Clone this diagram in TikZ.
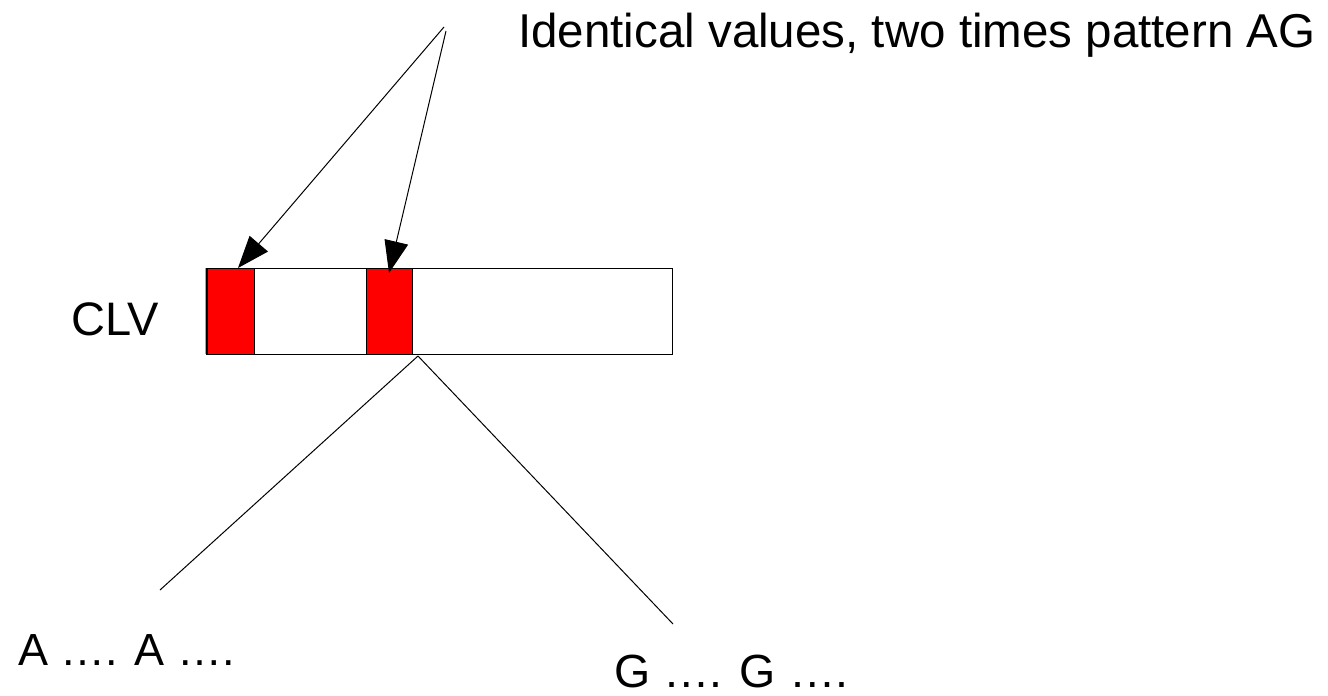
\documentclass[tikz,border=0pt]{standalone}
\usepackage{fontspec}
\setmainfont{Liberation Sans}
\usetikzlibrary{arrows.meta}
\begin{document}
\begin{tikzpicture}[x=1pt,y=-1pt,
  lbl/.style={anchor=base west,inner sep=0pt,font=\fontsize{45}{54}\selectfont},
  thin line/.style={line width=1pt,black},
  pointer/.style={thin line,-{Triangle[length=32pt,width=24pt]}},
  redbox/.style={fill=red,draw=black,line width=0.8pt}]
\useasboundingbox (0,0) rectangle (1328,696);
% main bar
\fill[gray!70] (205,268) rectangle (208,354);
\draw[line width=1pt] (206,268) rectangle (672,354);
\node[redbox,minimum width=47pt,minimum height=86pt,inner sep=0pt,anchor=north west] (r1) at (207,268) {};
\node[redbox,minimum width=46pt,minimum height=86pt,inner sep=0pt,anchor=north west] (r2) at (366,268) {};
% labels
\node[lbl,font=\fontsize{47.5}{57}\selectfont] (title) at (518,47) {Identical values, two times pattern AG};
\node[lbl,font=\fontsize{47}{56}\selectfont] (clv) at (71,335) {CLV};
\node[lbl] (seqA) at (18,665) {A …. A ….};
\node[lbl,font=\fontsize{46.5}{56}\selectfont] (seqG) at (614,687) {G …. G ….};
% pointers
\coordinate (s1) at (444,27);
\coordinate (s2) at (446,31);
\coordinate (t1) at (238,268);
\coordinate (t2) at (389,273);
\draw[pointer] (s1) -- (t1);
\draw[pointer] (s2) -- (t2);
% branches
\coordinate (b) at (418,356);
\coordinate (bl) at (160,590);
\coordinate (br) at (673,624);
\draw[thin line] (b) -- (bl);
\draw[thin line] (b) -- (br);
\end{tikzpicture}
\end{document}
